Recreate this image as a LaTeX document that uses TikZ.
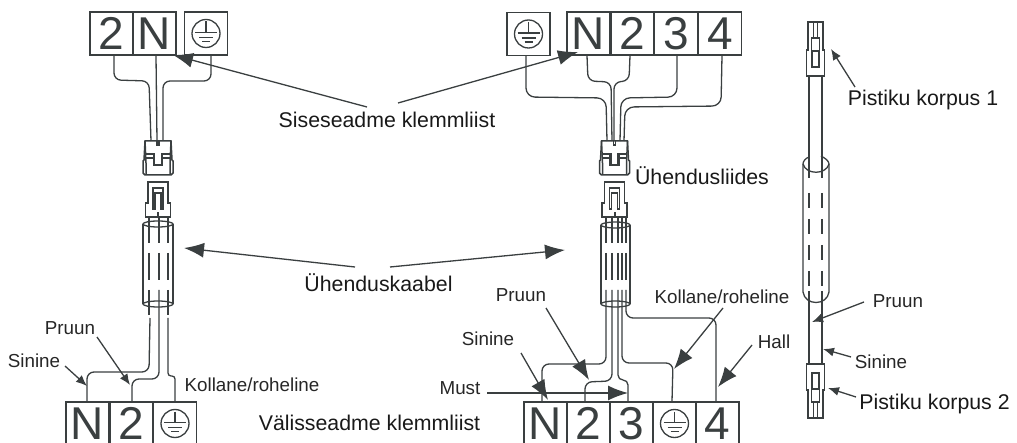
\documentclass[tikz,border=0pt]{standalone}
\usepackage{fontspec}
\setmainfont{Liberation Sans}
\usetikzlibrary{arrows.meta}
\definecolor{inkGrey}{HTML}{3A3F40}

\tikzset{
  earthMark/.pic={
    \draw[wireStyle] (0,0) circle (14);
    \draw[wireStyle] (0,-12) -- (0,-1);
    \draw[wireStyle] (-11,-1) -- (11,-1);
    \draw[wireStyle] (-7,4) -- (7,4);
    \draw[wireStyle] (-4,8) -- (4,8);
  },
  socketMark/.pic={
    \draw[socketStyle] (-13,0) -- (13,0) -- (14,19) -- (15,20) -- (15,32) -- (13,34) -- (-13,34) -- (-15,32) -- (-15,20) -- (-14,19) -- cycle;
    \draw[socketStyle] (-13,0) -- (-12,22) -- (-12,33);
    \draw[socketStyle] (13,0) -- (12,22) -- (12,33);
    \draw[socketStyle,line width=2.2] (-12,13) -- (-4,13) -- (-4,24) -- (4,24) -- (4,13) -- (12,13);
    \draw[socketStyle] (-12,17) -- (-4,17);
    \draw[socketStyle] (4,17) -- (12,17);
    \draw[socketStyle] (-1,0) -- (-1,4) -- (1,4) -- (1,0);
  },
  plugMark/.pic={
    \draw[wireStyle] (-10,0) -- (10,0) -- (10,21) -- (12.5,21) -- (12.5,35) -- (-12.5,35) -- (-12.5,21) -- (-10,21) -- cycle;
    \draw[socketStyle] (-5,6) -- (5,6) -- (5,27) -- (3,27) -- (3,11) -- (-3,11) -- (-3,27) -- (-5,27) -- cycle;
    \fill[inkGrey] (-1,30) rectangle (1,34);
  },
  plugThin/.pic={
    \draw[wireStyle] (-7.5,0) -- (7.5,0) -- (7.5,28) -- (9,28) -- (9,54) -- (-9,54) -- (-9,28) -- (-7.5,28) -- cycle;
    \draw[wireStyle] (-2,0) -- (-2,16);
    \draw[wireStyle] (2,0) -- (2,16);
    \draw[socketStyle,fill=white] (-4,16) rectangle (4,40);
    \draw[wireStyle,fill=white] (-3.5,29) rectangle (3.5,45);
  }
}

\begin{document}
\begin{tikzpicture}[x = 1pt, y = -1pt]
\tikzstyle{wireStyle} = [draw = inkGrey, line width = 1.3pt]
\tikzstyle{socketStyle} = [draw = inkGrey, line width = 1.5pt]
\tikzstyle{cableDash} = [wireStyle, dash pattern = on 15pt off 11pt]
\tikzstyle{routeStyle} = [wireStyle, rounded corners = 7pt]
\tikzstyle{terminalStyle} = [shape = rectangle, draw = inkGrey, line width = 1.3pt, minimum width = 43pt, minimum height = 43pt, inner sep = 0pt, text = inkGrey, font = \fontsize{46}{46}\selectfont]
\tikzstyle{noteStyle} = [inner sep = 2pt, text = black!85, font = \fontsize{18.8}{19}\selectfont]
\tikzstyle{titleStyle} = [inner sep = 2pt, text = black!90, font = \fontsize{21.3}{22}\selectfont]
\tikzstyle{bigArrow} = [draw = inkGrey, line width = 1.3pt, -{Latex[length = 20pt, width = 15pt]}]
\tikzstyle{smallArrow} = [draw = inkGrey, line width = 1.3pt, -{Latex[length = 11pt, width = 9pt]}]
\useasboundingbox (0, 0) rectangle (1017, 443);

% upper left terminals
\node[terminalStyle] (upA2) at (111.5, 33.5) {2};
\node[terminalStyle] (upAN) at (154.5, 33.5) {N};
\node[terminalStyle] (upAE) at (206, 33.5) {};
\pic at (upAE) {earthMark};
% upper middle terminals
\node[terminalStyle] (upBE) at (528.5, 34) {};
\pic at (upBE) {earthMark};
\node[terminalStyle] (upBN) at (588.5, 33.5) {N};
\node[terminalStyle] (upB2) at (632.5, 33.5) {2};
\node[terminalStyle] (upB3) at (676, 33.5) {3};
\node[terminalStyle] (upB4) at (720, 33.5) {4};
% lower left terminals
\node[terminalStyle] (loAN) at (87.5, 423.5) {N};
\node[terminalStyle] (loA2) at (131.5, 423.5) {2};
\node[terminalStyle] (loAE) at (175, 423.5) {};
\pic at (loAE) {earthMark};
% lower middle terminals
\node[terminalStyle] (loBN) at (545.5, 423.5) {N};
\node[terminalStyle] (loB2) at (588.5, 423.5) {2};
\node[terminalStyle] (loB3) at (631.5, 423.5) {3};
\node[terminalStyle] (loBE) at (674.5, 423.5) {};
\pic at (loBE) {earthMark};
\node[terminalStyle] (loB4) at (717.5, 423.5) {4};

% connectors
\coordinate (sockA) at (158, 141);
\coordinate (sockB) at (614.5, 141);
\coordinate (plugA) at (158, 182);
\coordinate (plugB) at (614.5, 182);
\coordinate (tailA) at (158, 290);
\coordinate (tailB) at (614, 290);
\pic at (sockA) {socketMark};
\pic at (sockB) {socketMark};
\pic at (plugA) {plugMark};
\pic at (plugB) {plugMark};

% upper left wires
\draw[routeStyle] ([xshift = 2.5pt]upA2.south) -- (114, 80) -- (149, 81) -- ([xshift = -7pt]sockA);
\draw[wireStyle] ([xshift = 1.5pt]upAN.south) -- ([xshift = -1pt]sockA);
\draw[routeStyle] ([xshift = 5pt]upAE.south) -- (211, 81) -- (163, 81) -- ([xshift = 5pt]sockA);
% upper middle wires
\draw[routeStyle] ([xshift = -1.5pt]upBN.south) -- (588, 81) -- (611, 82) -- ([xshift = -2.5pt]sockB);
\draw[routeStyle] ([xshift = -2.5pt]upB2.south) -- (629, 81) -- (614, 82) -- ([xshift = -0.5pt]sockB);
\draw[routeStyle, rounded corners = 9pt] ([xshift = 1pt]upB3.south) -- (677, 97) -- (621, 98) -- ([xshift = 5.5pt]sockB);
\draw[routeStyle, rounded corners = 9pt] ([xshift = 2pt]upB4.south) -- (721, 106) -- (625, 107) -- ([xshift = 9.5pt]sockB);
\draw[routeStyle, rounded corners = 9pt] ([xshift = -2.5pt]upBE.south) -- (526, 97) -- (606, 98) -- ([xshift = -7.5pt]sockB);

% left cable
\draw[wireStyle] (143, 224) -- (143, 304);
\draw[wireStyle] (173, 224) -- (173, 304);
\draw[wireStyle] (158, 224) ellipse (15 and 3);
\draw[wireStyle] (158, 304) ellipse (15 and 3);
\draw[wireStyle] (149, 217) -- (149, 243);
\draw[wireStyle] (149, 253) -- (149, 280);
\draw[wireStyle] (149, 290) -- (149, 315);
\draw[wireStyle] (159, 217) -- (159, 243);
\draw[wireStyle] (159, 253) -- (159, 280);
\draw[wireStyle] (168, 217) -- (168, 243);
\draw[wireStyle] (168, 253) -- (168, 280);
\draw[wireStyle] (168, 290) -- (168, 315);
% middle cable
\draw[wireStyle] (601, 225) -- (601, 304);
\draw[wireStyle] (630, 225) -- (630, 304);
\draw[wireStyle] (615.5, 225) ellipse (14.5 and 3);
\draw[wireStyle] (615.5, 304) ellipse (14.5 and 3);
\draw[wireStyle] (606, 217) -- (606, 243);
\draw[wireStyle] (606, 253) -- (606, 280);
\draw[wireStyle] (612, 217) -- (612, 243);
\draw[wireStyle] (612, 253) -- (612, 280);
\draw[wireStyle] (618, 217) -- (618, 243);
\draw[wireStyle] (618, 253) -- (618, 280);
\draw[wireStyle] (622, 217) -- (622, 243);
\draw[wireStyle] (622, 253) -- (622, 280);
\draw[wireStyle] (626, 217) -- (626, 243);
\draw[wireStyle] (626, 253) -- (626, 280);

% lower left wires
\draw[routeStyle] ([shift = {(-8pt, 28)}]tailA) -- (149, 372) -- (87, 372) -- ([xshift = -0.5pt]loAN.north);
\draw[routeStyle] ([xshift = 1pt]tailA) -- (159, 379) -- (132, 379) -- ([xshift = 0.5pt]loA2.north);
\draw[routeStyle, rounded corners = 3pt] ([shift = {(10pt, 28)}]tailA) -- (168, 376) -- (175, 376) -- (loAE.north);
% lower middle wires
\draw[routeStyle] ([xshift = -8pt]tailB) -- (606, 364) -- (542, 364) -- ([xshift = -3.5pt]loBN.north);
\draw[routeStyle] ([xshift = -2pt]tailB) -- (612, 381) -- (585, 382) -- ([xshift = -3.5pt]loB2.north);
\draw[routeStyle, rounded corners = 5pt] ([xshift = 4pt]tailB) -- (618, 380) -- (628, 380) -- ([xshift = -3.5pt]loB3.north);
\draw[routeStyle] ([xshift = 8pt]tailB) -- (622, 363) -- (673, 363) -- ([xshift = -2.5pt]loBE.north);
\draw[routeStyle] ([xshift = 12pt]tailB) -- (626, 318) -- (716, 318) -- ([xshift = -1.5pt]loB4.north);

% separate lead on the right
\coordinate (headC) at (815.5, 22);
\coordinate (footC) at (815.5, 418);
\pic at (headC) {plugThin};
\pic[yscale = -1] at (footC) {plugThin};
\draw[wireStyle] (809, 76) -- (809, 178);
\draw[wireStyle] (822, 76) -- (822, 178);
\draw[wireStyle] (809, 157) .. controls (806, 158) and (803, 161) .. (803, 164) -- (803, 292);
\draw[wireStyle] (821, 156) .. controls (825, 158) and (829, 161) .. (829, 164) -- (829, 292);
\draw[wireStyle] (803, 164) .. controls (806, 175) and (826, 175) .. (829, 164);
\draw[wireStyle] (803, 292) .. controls (805, 306) and (827, 306) .. (829, 292);
\draw[cableDash] (809, 193) -- (809, 287);
\draw[cableDash] (822, 193) -- (822, 287);
\draw[wireStyle] (809, 291) -- (809, 364);
\draw[wireStyle] (822, 291) -- (822, 364);

% labels
\node[titleStyle] (lblSise) at (387, 120) {Siseseadme klemmliist};
\node[titleStyle] (lblKaabel) at (378.5, 283) {Ühenduskaabel};
\node[titleStyle] (lblLiides) at (702, 176) {Ühendusliides};
\node[titleStyle] (lblValis) at (369.5, 423) {Välisseadme klemmliist};
\node[titleStyle] (lblKorpus1) at (923, 100) {Pistiku korpus 1};
\node[titleStyle] (lblKorpus2) at (934.5, 404) {Pistiku korpus 2};
\node[noteStyle] (lblPruunA) at (70, 328) {Pruun};
\node[noteStyle] (lblSinineA) at (34, 361) {Sinine};
\node[noteStyle] (lblKollA) at (252, 385) {Kollane/roheline};
\node[noteStyle] (lblPruunB) at (521, 295) {Pruun};
\node[noteStyle] (lblSinineB) at (488, 339) {Sinine};
\node[noteStyle] (lblMust) at (460, 388) {Must};
\node[noteStyle] (lblKollB) at (722, 297) {Kollane/roheline};
\node[noteStyle] (lblHall) at (774, 342) {Hall};
\node[noteStyle] (lblPruunC) at (898, 301) {Pruun};
\node[noteStyle] (lblSinineC) at (881, 362) {Sinine};

% arrows
\coordinate (fromSiseL) at (367, 107);
\coordinate (fromSiseR) at (398, 103);
\coordinate (fromKaabelL) at (355, 267);
\coordinate (fromKaabelR) at (390, 267);
\coordinate (fromPruunA) at (97, 337);
\coordinate (fromSinineA) at (65, 366);
\coordinate (fromPruunB) at (546, 308);
\coordinate (fromSinineB) at (521, 353);
\coordinate (fromMust) at (487, 393);
\coordinate (fromKollB) at (723, 308);
\coordinate (fromHall) at (752, 345);
\coordinate (fromKorpus1) at (855, 87);
\coordinate (fromPruunC) at (864, 302);
\coordinate (fromSinineC) at (851, 357);
\coordinate (fromKorpus2) at (856, 397);
\coordinate (toSiseL) at (173, 55);
\coordinate (toSiseR) at (578, 52);
\coordinate (toKaabelL) at (184, 248);
\coordinate (toKaabelR) at (565, 250);
\coordinate (toPruunA) at (130, 385);
\coordinate (toSinineA) at (87, 386);
\coordinate (toPruunB) at (589, 380);
\coordinate (toSinineB) at (548, 400);
\coordinate (toMust) at (628, 393);
\coordinate (toKollB) at (674, 369);
\coordinate (toHall) at (718, 387);
\coordinate (toKorpus1) at (831, 49);
\coordinate (toPruunC) at (812, 322);
\coordinate (toSinineC) at (823, 349);
\coordinate (toKorpus2) at (828, 388);
\draw[bigArrow] (fromSiseL) -- (toSiseL);
\draw[bigArrow] (fromSiseR) -- (toSiseR);
\draw[bigArrow] (fromKaabelL) -- (toKaabelL);
\draw[bigArrow] (fromKaabelR) -- (toKaabelR);
\draw[smallArrow] (fromPruunA) -- (toPruunA);
\draw[smallArrow] (fromSinineA) -- (toSinineA);
\draw[bigArrow] (fromPruunB) -- (toPruunB);
\draw[bigArrow] (fromSinineB) -- (toSinineB);
\draw[bigArrow] (fromMust) -- (toMust);
\draw[bigArrow] (fromKollB) -- (toKollB);
\draw[bigArrow] (fromHall) -- (toHall);
\draw[smallArrow] (fromKorpus1) -- (toKorpus1);
\draw[smallArrow] (fromPruunC) -- (toPruunC);
\draw[smallArrow] (fromSinineC) -- (toSinineC);
\draw[smallArrow] (fromKorpus2) -- (toKorpus2);
\end{tikzpicture}
\end{document}
